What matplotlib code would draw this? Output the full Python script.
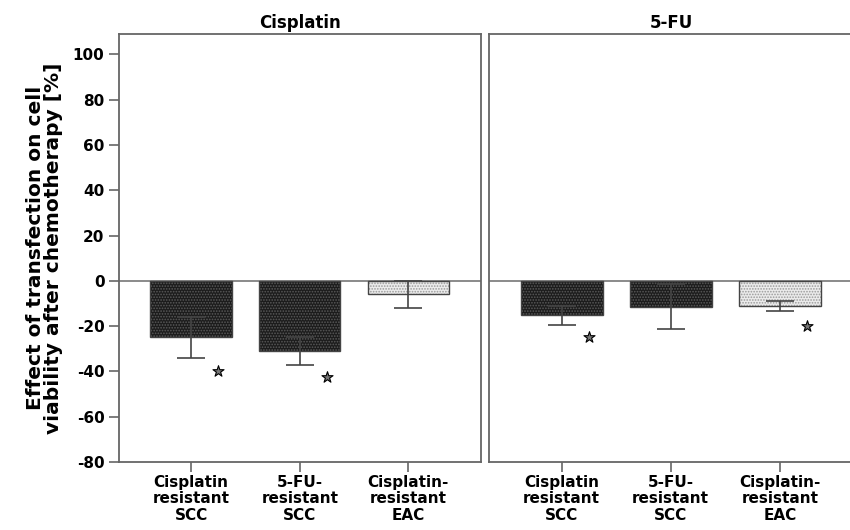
import numpy as np
import matplotlib
matplotlib.use("Agg")
import matplotlib.pyplot as plt

# values
groups = ["Cisplatin\nresistant\nSCC", "5-FU-\nresistant\nSCC", "Cisplatin-\nresistant\nEAC"]
panels = ["Cisplatin", "5-FU"]
cisplatin_mean = [-25.0, -30.8, -6.0]
cisplatin_err = [9.2, 6.2, 5.9]
fu_mean = [-15.2, -11.4, -11.0]
fu_err = [4.3, 9.8, 2.2]
cisplatin_star = [-39.6, -42.3, None]
fu_star = [-24.7, None, -19.8]
yticks = [100, 80, 60, 40, 20, 0, -20, -40, -60, -80]

means = [cisplatin_mean, fu_mean]
errs = [cisplatin_err, fu_err]
stars = [cisplatin_star, fu_star]

dark_face = "#1c1c1c"
dark_dots = "#5a5a5a"
light_face = "#ebebeb"
light_dots = "#9a9a9a"
spine_col = "#666666"

plt.rcParams["font.family"] = "DejaVu Sans"
plt.rcParams["hatch.linewidth"] = 0.8

fig = plt.figure(figsize=(8.5, 5.3), dpi=100)
ax1 = fig.add_axes([0.140, 0.1283, 0.426, 0.8075])
ax2 = fig.add_axes([0.5753, 0.1283, 0.4282, 0.8075])

x = np.arange(len(groups))
for i, ax in enumerate([ax1, ax2]):
    faces = [dark_face, dark_face, light_face]
    dots = [dark_dots, dark_dots, light_dots]
    for j in range(len(groups)):
        ax.bar(x[j], means[i][j], width=0.75, color=faces[j], edgecolor=dots[j],
               hatch="......", linewidth=0, zorder=2)
        ax.bar(x[j], means[i][j], width=0.75, fill=False, edgecolor="#444444",
               linewidth=1.0, zorder=3)
    ax.errorbar(x, means[i], yerr=errs[i], fmt="none", ecolor="#444444",
                elinewidth=1.2, capsize=10, capthick=1.2, zorder=4)
    for j, s in enumerate(stars[i]):
        if s is not None:
            ax.scatter(x[j] + 0.25, s, marker="*", s=70, facecolor="#777777",
                       edgecolor="black", linewidth=0.8, zorder=5)
    ax.axhline(0, color="#777777", linewidth=1.2, zorder=1)
    ax.set_xlim(-0.665, 2.67)
    ax.set_ylim(-80, 109)
    ax.set_xticks(x)
    ax.set_xticklabels(groups, fontsize=11, fontweight="bold", linespacing=1.1)
    ax.set_title(panels[i], fontsize=12, fontweight="bold", pad=4)
    for sp in ax.spines.values():
        sp.set_color(spine_col)
        sp.set_linewidth(1.3)
    ax.tick_params(axis="x", direction="out", length=7.5, width=1.2, color=spine_col, pad=2)

ax1.set_yticks(yticks)
ax1.set_yticklabels([str(v) for v in yticks], fontsize=11, fontweight="bold")
ax1.tick_params(axis="y", direction="out", length=7.5, width=1.2, color=spine_col, pad=3)
ax1.set_ylabel("Effect of transfection on cell\nviability after chemotherapy [%]",
               fontsize=14.5, fontweight="bold", linespacing=0.9, labelpad=7)
ax2.set_yticks([])

fig.savefig("out.png", dpi=100)
